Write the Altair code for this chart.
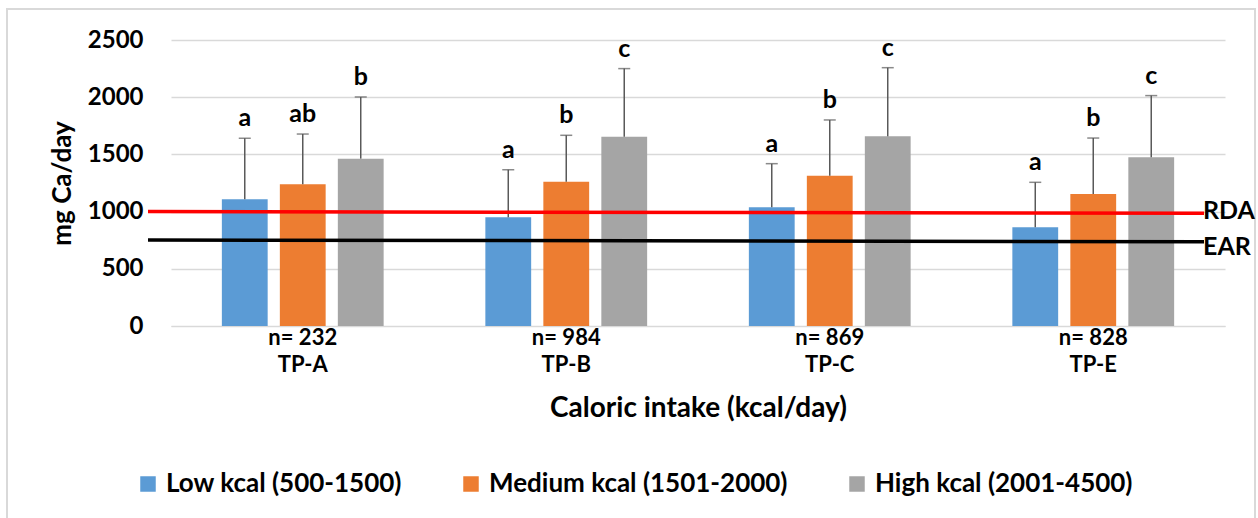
import altair as alt
import pandas as pd

# Calcium intake by caloric-intake tertile, per study group
groups = ["TP-A", "TP-B", "TP-C", "TP-E"]
group_n = [232, 984, 869, 828]
series = ["Low kcal (500-1500)", "Medium kcal (1501-2000)", "High kcal (2001-4500)"]
colors = ["#5B9BD5", "#ED7D31", "#A5A5A5"]

mean_low = [1107, 950, 1037, 863]
mean_med = [1238, 1262, 1314, 1154]
mean_high = [1463, 1655, 1658, 1475]

sd_low = [534, 416, 382, 393]
sd_med = [440, 405, 487, 489]
sd_high = [539, 595, 600, 539]

letters_low = ["a", "a", "a", "a"]
letters_med = ["ab", "b", "b", "b"]
letters_high = ["b", "c", "c", "c"]

# Reference intakes (left end, right end)
ref_names = ["RDA", "EAR"]
ref_start = [1000, 752]
ref_end = [985, 737]
ref_colors = ["#FF0000", "#000000"]
ref_label_dy = [-2, 5]

FONT = "Lato"
W, H = 1054, 286

rows = []
for s, means, sds, lets in zip(
    series,
    [mean_low, mean_med, mean_high],
    [sd_low, sd_med, sd_high],
    [letters_low, letters_med, letters_high],
):
    for g, n, m, sd, lt in zip(groups, group_n, means, sds, lets):
        rows.append({
            "group": f"n= {n}|{g}",
            "series": s,
            "mean": m,
            "upper": m + sd,
            "letter": lt,
        })
df = pd.DataFrame(rows)
group_labels = [f"n= {n}|{g}" for g, n in zip(groups, group_n)]

refs = pd.DataFrame({"name": ref_names, "y0": ref_start, "y1": ref_end, "col": ref_colors})

x_enc = alt.X(
    "group:N",
    sort=group_labels,
    scale=alt.Scale(paddingInner=0.386, paddingOuter=0.193),
    axis=alt.Axis(
        title="Caloric intake (kcal/day)",
        labelExpr="split(datum.value, '|')",
        labelAngle=0,
        labelPadding=1,
        labelLineHeight=27,
        labelFontSize=22,
        labelFontWeight="bold",
        labelColor="#000000",
        ticks=False,
        domain=True,
        domainColor="#D9D9D9",
        grid=False,
        titleFontSize=28,
        titleFontWeight="bold",
        titleY=82,
        titleBaseline="middle",
    ),
)
xoff = alt.XOffset("series:N", sort=series, scale=alt.Scale(paddingInner=0.21, paddingOuter=0))
y_scale = alt.Scale(domain=[0, 2500])

base = alt.Chart(df)

bars = base.mark_bar().encode(
    x=x_enc,
    xOffset=xoff,
    y=alt.Y(
        "mean:Q",
        scale=y_scale,
        axis=alt.Axis(
            title="mg Ca/day",
            values=[0, 500, 1000, 1500, 2000, 2500],
            format="d",
            labelFontSize=24,
            labelFontWeight="bold",
            labelColor="#000000",
            labelPadding=28,
            ticks=False,
            domain=False,
            grid=True,
            gridColor="#D9D9D9",
            gridWidth=1.5,
            titleFontSize=26,
            titleFontWeight="bold",
            titleX=-109,
            titleY=H / 2,
            titleAngle=270,
            titleAlign="center",
            titleBaseline="middle",
        ),
    ),
    color=alt.Color(
        "series:N",
        sort=series,
        scale=alt.Scale(domain=series, range=colors),
        legend=alt.Legend(
            title=None,
            orient="none",
            legendX=-36,
            legendY=431,
            direction="horizontal",
            symbolType="square",
            symbolSize=240,
            symbolStrokeWidth=0,
            labelFontSize=26,
            labelFontWeight="bold",
            labelColor="#000000",
            labelLimit=400,
            labelOffset=5,
            columnPadding=56,
            padding=0,
        ),
    ),
)

err = base.mark_rule(color="#595959", strokeWidth=1.5).encode(
    x=alt.X("group:N", sort=group_labels),
    xOffset=xoff,
    y=alt.Y("mean:Q", scale=y_scale),
    y2="upper:Q",
)

caps = base.mark_tick(color="#595959", thickness=1.5, size=12, orient="horizontal").encode(
    x=alt.X("group:N", sort=group_labels),
    xOffset=xoff,
    y=alt.Y("upper:Q", scale=y_scale),
)

letters = base.mark_text(
    font=FONT, fontSize=25, fontWeight="bold", color="#000000",
    baseline="alphabetic", dy=-12,
).encode(
    x=alt.X("group:N", sort=group_labels),
    xOffset=xoff,
    y=alt.Y("upper:Q", scale=y_scale),
    text="letter:N",
)

ref_base = alt.Chart(refs)
ref_lines = ref_base.mark_rule(strokeWidth=3.5).encode(
    x=alt.value(-23),
    x2=alt.value(1033),
    y=alt.Y("y0:Q", scale=y_scale),
    y2="y1:Q",
    color=alt.Color("col:N", scale=None),
)

ref_texts = []
for name, dy in zip(ref_names, ref_label_dy):
    ref_texts.append(
        ref_base.transform_filter(alt.datum.name == name)
        .mark_text(
            font=FONT, fontSize=25, fontWeight="bold", color="#000000",
            align="left", baseline="middle", dy=dy,
        )
        .encode(
            x=alt.value(1032),
            y=alt.Y("y1:Q", scale=y_scale),
            text="name:N",
        )
    )

# Light frame around the whole figure
frame = alt.Chart(pd.DataFrame({"k": [0]})).mark_rect(
    fill=None, stroke="#D9D9D9", strokeWidth=2, clip=False
).encode(
    x=alt.value(-164), x2=alt.value(1084),
    y=alt.value(-31), y2=alt.value(490),
)

chart = (
    alt.layer(frame, bars, err, caps, letters, ref_lines, *ref_texts)
    .properties(
        width=W,
        height=H,
        padding={"left": 171, "top": 40, "right": 33, "bottom": 192},
        autosize=alt.AutoSizeParams(type="none"),
        background="#FFFFFF",
    )
    .configure(font=FONT)
    .configure_view(stroke=None)
)

chart.save("out.html", embed_options={"renderer": "svg", "actions": False})
